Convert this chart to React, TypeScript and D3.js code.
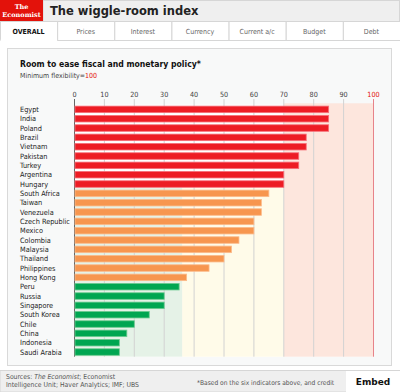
import React from "react";
import { scaleLinear, scaleBand } from "d3";

const countries = [
  "Egypt", "India", "Poland", "Brazil", "Vietnam", "Pakistan", "Turkey", "Argentina", "Hungary",
  "South Africa", "Taiwan", "Venezuela", "Czech Republic", "Mexico", "Colombia", "Malaysia",
  "Thailand", "Philippines", "Hong Kong",
  "Peru", "Russia", "Singapore", "South Korea", "Chile", "China", "Indonesia", "Saudi Arabia",
];
const scores = [
  85, 85, 85, 77.5, 77.5, 75, 75, 70, 70,
  65, 62.5, 62.5, 60, 60, 55, 52.5, 50, 45, 37.5,
  35, 30, 30, 25, 20, 17.5, 15, 15,
];
const groups = [
  "high", "high", "high", "high", "high", "high", "high", "high", "high",
  "mid", "mid", "mid", "mid", "mid", "mid", "mid", "mid", "mid", "mid",
  "low", "low", "low", "low", "low", "low", "low", "low",
];
const ticks = [0, 10, 20, 30, 40, 50, 60, 70, 80, 90, 100];
const tabs = ["OVERALL", "Prices", "Interest", "Currency", "Current a/c", "Budget", "Debt"];
// background zones: [from, to, first country of the zone, colour]
const zones: [number, number, string, string][] = [
  [70, 100, "Egypt", "#fde6dd"],
  [36, 70, "South Africa", "#fffbe9"],
  [0, 36, "South Africa", "#e5f2e7"],
];

const barFill: Record<string, string> = { high: "#ed1c24", mid: "#f7964f", low: "#00a651" };
const barStroke: Record<string, string> = { high: "#f7707a", mid: "#fbbb8c", low: "#6dcb91" };

const W = 400;
const H = 392;
const font = "'DejaVu Sans Condensed', 'DejaVu Sans', sans-serif";

export default function App() {
  const x = scaleLinear().domain([0, 100]).range([74.5, 373.5]);
  const y = scaleBand<string>().domain(countries).range([104.7, 356.7]).paddingInner(0.3).paddingOuter(0.15);
  const step = y.step();
  const plotTop = 104.7;
  const plotBottom = 356.7;
  const tabW = W / tabs.length;

  return (
    <svg width={W} height={H} style={{ position: "absolute", left: 0, top: 0 }} fontFamily={font}>
      <rect x={0} y={0} width={W} height={H} fill="#ffffff" />
      {/* header */}
      <rect x={43} y={0.5} width={356.5} height={21} fill="#efefef" stroke="#d6d6d6" />
      <rect x={0} y={0} width={43} height={21.5} fill="#e3120b" />
      <text x={21.5} y={8.5} fill="#fff" fontSize={6.5} textAnchor="middle" fontFamily="'DejaVu Serif', serif" fontWeight="bold">The</text>
      <text x={21.5} y={16.5} fill="#fff" fontSize={6.5} textAnchor="middle" fontFamily="'DejaVu Serif', serif" fontWeight="bold">Economist</text>
      <text x={50} y={15} fontSize={11.5} fontWeight="bold" fill="#222" fontFamily="'DejaVu Sans', sans-serif">The wiggle-room index</text>
      {/* tabs */}
      {tabs.map((t, i) => (
        <g key={t}>
          <rect x={i * tabW + 0.5} y={21.5} width={tabW} height={19} fill="#fff" stroke="#d6d6d6" />
          <text x={i * tabW + tabW / 2} y={34} fontSize={7} textAnchor="middle" fill={i === 0 ? "#111" : "#666"} fontWeight={i === 0 ? "bold" : "normal"}>{t}</text>
        </g>
      ))}
      <line x1={0.5} x2={tabW} y1={40.5} y2={40.5} stroke="#fff" strokeWidth={1.5} />
      {/* panel */}
      <rect x={7.5} y={48.5} width={384} height={317} fill="#f8f9f9" stroke="#d9d9d9" />
      <text x={20} y={67} fontSize={8.6} fontWeight="bold" fill="#111">Room to ease fiscal and monetary policy*</text>
      <text x={20} y={77.5} fontSize={7} fill="#444">
        Minimum flexibility=<tspan fill="#e3120b">100</tspan>
      </text>
      {/* plot background */}
      <rect x={x(0)} y={plotTop} width={x(100) - x(0)} height={plotBottom - plotTop} fill="#ffffff" />
      {zones.map(([a, b, first, c]) => {
        const top = (y(first) ?? 0) - step * 0.3;
        return <rect key={c} x={x(a)} y={top} width={x(b) - x(a)} height={plotBottom - top} fill={c} />;
      })}
      {/* grid + tick labels */}
      {ticks.map((t) => (
        <g key={t}>
          <line x1={x(t)} x2={x(t)} y1={99} y2={plotBottom} stroke={t === 100 ? "#e7838a" : t === 0 ? "#666" : "#d2d2d2"} strokeWidth={1} />
          <text x={x(t)} y={97} fontSize={7.2} textAnchor="middle" fill={t === 100 ? "#e3120b" : "#444"}>{t}</text>
        </g>
      ))}
      {/* bars */}
      {countries.map((c, i) => (
        <g key={c}>
          <rect x={x(0) + 0.5} y={y(c)} width={x(scores[i]) - x(0) - 0.5} height={y.bandwidth()} fill={barFill[groups[i]]} stroke={barStroke[groups[i]]} strokeWidth={0.8} />
          <text x={20} y={(y(c) ?? 0) + y.bandwidth() / 2 + 2.6} fontSize={7.3} fill="#222">{c}</text>
        </g>
      ))}
      {/* footer */}
      <rect x={0} y={370.5} width={W} height={21.5} fill="#efefef" stroke="#d6d6d6" />
      <text x={6} y={379} fontSize={6.8} fill="#555">
        Sources: <tspan fontStyle="italic">The Economist</tspan>; Economist
      </text>
      <text x={6} y={387} fontSize={6.8} fill="#555">Intelligence Unit; Haver Analytics; IMF; UBS</text>
      <text x={197} y={385} fontSize={6.6} fill="#555">*Based on the six indicators above, and credit</text>
      <rect x={346} y={371} width={54} height={21} fill="#ffffff" />
      <text x={373} y={385} fontSize={9} fontWeight="bold" textAnchor="middle" fill="#111" fontFamily="'DejaVu Sans', sans-serif">Embed</text>
    </svg>
  );
}
